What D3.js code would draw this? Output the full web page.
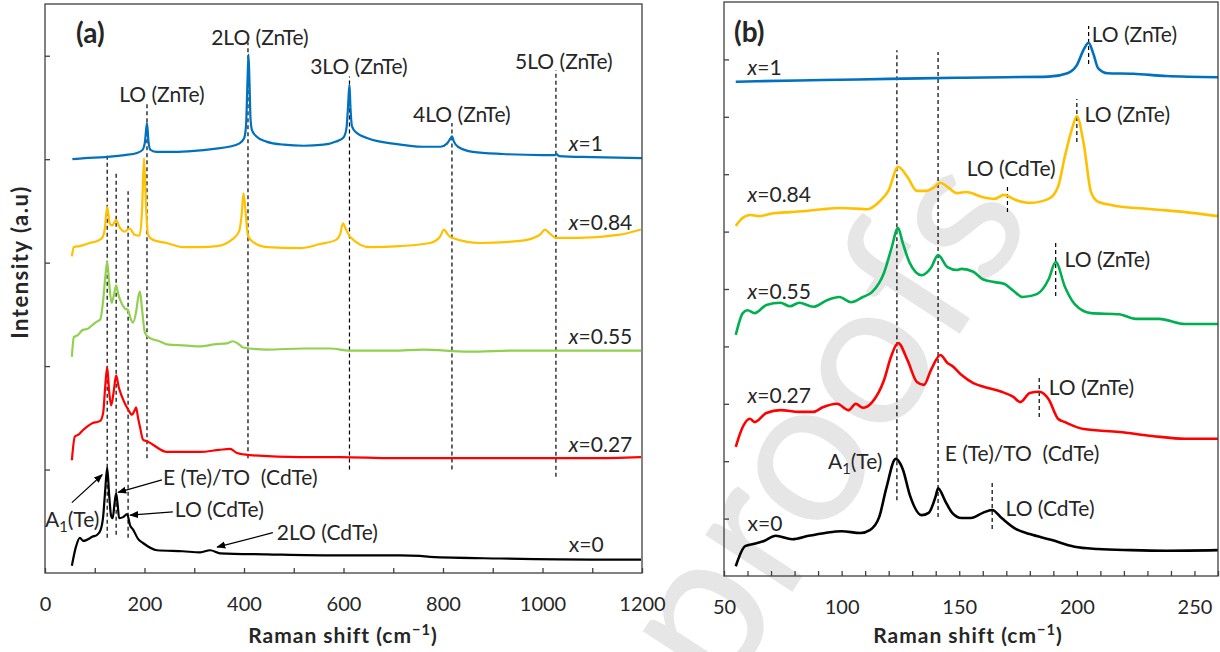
<!DOCTYPE html>
<html>
<head>
<meta charset="utf-8">
<script src="https://cdn.jsdelivr.net/npm/d3@7"></script>
<style>
body{margin:0;background:#fff;}
svg text{font-family:Lato,"Open Sans",sans-serif;fill:#262626;white-space:pre;}
</style>
</head>
<body>
<svg id="chart" width="1220" height="652"></svg>
<script>
// ---- panel (a): full range spectra, [Raman shift, stacked intensity] ----
var aX1 = [[55,4.00],[80,4.01],[120,4.02],[160,4.04],[185,4.06],[196,4.09],[201,4.17],[205,4.35],[208,4.17],[212,4.09],[225,4.07],[260,4.07],[300,4.08],[340,4.10],[370,4.12],[390,4.15],[400,4.2],[404,4.32],[407,4.75],[409,5.01],[411,4.75],[413,4.40],[416,4.28],[425,4.22],[445,4.17],[480,4.14],[520,4.13],[560,4.14],[585,4.17],[600,4.21],[606,4.3],[609,4.5],[612,4.72],[614,4.5],[617,4.32],[625,4.26],[650,4.20],[700,4.15],[760,4.12],[795,4.12],[808,4.15],[815,4.2],[818,4.22],[822,4.17],[830,4.12],[860,4.07],[920,4.05],[1000,4.04],[1025,4.04],[1028,4.05],[1033,4.03],[1100,4.02],[1200,4.01]];
var aX084 = [[54,3.06],[58,3.15],[70,3.16],[90,3.19],[105,3.21],[115,3.24],[120,3.32],[125,3.54],[130,3.38],[135,3.36],[143,3.41],[150,3.34],[160,3.30],[170,3.33],[180,3.27],[190,3.26],[195,3.5],[199,4.01],[203,3.55],[207,3.27],[217,3.22],[245,3.19],[277,3.15],[312,3.15],[346,3.16],[375,3.22],[390,3.3],[395,3.45],[399,3.67],[403,3.5],[408,3.26],[418,3.20],[446,3.15],[513,3.14],[553,3.18],[585,3.22],[593,3.27],[599,3.38],[605,3.32],[613,3.25],[653,3.15],[714,3.16],[774,3.19],[794,3.25],[802,3.32],[810,3.27],[818,3.24],[874,3.19],[955,3.21],[995,3.27],[1005,3.32],[1015,3.28],[1027,3.24],[1075,3.24],[1156,3.27],[1198,3.32]];
var aX055 = [[54,2.09],[58,2.28],[66,2.30],[76,2.35],[86,2.36],[96,2.40],[104,2.43],[111,2.45],[117,2.64],[121,2.85],[125,3.01],[129,2.80],[134,2.61],[139,2.70],[143,2.78],[147,2.70],[151,2.64],[160,2.56],[167,2.54],[172,2.46],[177,2.42],[183,2.52],[188,2.68],[191,2.72],[195,2.55],[201,2.32],[211,2.27],[230,2.24],[245,2.21],[280,2.20],[312,2.19],[340,2.21],[366,2.22],[378,2.24],[390,2.21],[398,2.18],[446,2.16],[520,2.17],[573,2.17],[613,2.15],[700,2.15],[760,2.16],[850,2.14],[950,2.15],[1050,2.15],[1150,2.15],[1198,2.15]];
var aX027 = [[54,1.09],[60,1.32],[68,1.34],[76,1.38],[86,1.42],[96,1.45],[105,1.46],[111,1.47],[117,1.55],[121,1.8],[125,1.99],[129,1.75],[133,1.62],[138,1.75],[143,1.91],[148,1.8],[155,1.70],[167,1.58],[175,1.53],[180,1.57],[183,1.60],[187,1.5],[191,1.41],[197,1.29],[207,1.27],[217,1.24],[245,1.17],[312,1.17],[350,1.19],[372,1.20],[386,1.16],[412,1.14],[513,1.12],[593,1.12],[700,1.11],[900,1.11],[1100,1.11],[1198,1.12]];
var aX0 = [[54,0.07],[62,0.25],[70,0.34],[77,0.31],[84,0.32],[95,0.35],[105,0.37],[112,0.42],[117,0.55],[121,0.8],[125,1.02],[129,0.75],[133,0.55],[136,0.53],[140,0.68],[143,0.77],[146,0.66],[149,0.53],[157,0.54],[165,0.57],[171,0.46],[177,0.42],[187,0.33],[197,0.29],[225,0.22],[277,0.21],[312,0.20],[332,0.22],[352,0.19],[446,0.18],[579,0.17],[714,0.17],[754,0.165],[774,0.155],[915,0.14],[1116,0.13],[1198,0.13]];

// ---- panel (b): low range zoom ----
var bX1 = [[55,8.61],[64,8.62],[92,8.64],[120,8.66],[149,8.68],[170,8.69],[188,8.70],[196,8.76],[200,8.90],[203,9.18],[205,9.29],[207,9.10],[209,8.85],[213,8.76],[224,8.75],[238,8.71],[260,8.69]];
var bX084 = [[55,6.10],[58,6.24],[61,6.29],[65,6.27],[71,6.32],[78,6.34],[85,6.36],[92,6.39],[99,6.41],[106,6.40],[111,6.39],[116,6.52],[120,6.72],[124,7.13],[128,6.95],[132,6.71],[136,6.71],[139,6.76],[142,6.85],[145,6.78],[149,6.67],[153,6.69],[160,6.60],[165,6.57],[169,6.64],[174,6.55],[180,6.50],[188,6.57],[192,6.78],[195,7.33],[198,7.8],[200,8.01],[203,7.51],[206,6.69],[209,6.52],[215,6.46],[232,6.39],[246,6.34],[260,6.27]];
var bX055 = [[55,4.20],[58,4.58],[60,4.63],[63,4.58],[68,4.72],[74,4.76],[78,4.70],[82,4.76],[88,4.69],[94,4.81],[99,4.86],[104,4.77],[109,4.86],[113,4.95],[118,5.28],[121,5.68],[124,6.06],[126,5.80],[129,5.45],[134,5.24],[138,5.37],[141,5.59],[145,5.38],[149,5.33],[151,5.35],[156,5.30],[160,5.17],[165,5.12],[169,5.09],[173,4.97],[177,4.86],[183,4.91],[188,5.17],[191,5.47],[195,5.03],[199,4.74],[206,4.58],[218,4.56],[225,4.48],[235,4.48],[246,4.39],[260,4.39]];
var bX027 = [[55,2.25],[58,2.60],[61,2.74],[63,2.68],[68,2.84],[74,2.89],[82,2.86],[88,2.86],[92,2.94],[98,3.00],[103,2.89],[106,3.00],[109,2.93],[113,3.03],[118,3.41],[121,3.82],[124,4.06],[128,3.76],[132,3.38],[135,3.33],[138,3.59],[142,3.85],[145,3.71],[147,3.66],[151,3.50],[156,3.36],[161,3.29],[168,3.21],[173,3.12],[176,3.03],[180,3.19],[184,3.21],[188,3.08],[192,2.74],[195,2.68],[203,2.56],[218,2.51],[232,2.44],[246,2.39],[260,2.39]];
var bX0 = [[55,0.17],[59,0.52],[63,0.56],[67,0.61],[72,0.70],[79,0.64],[86,0.70],[93,0.75],[100,0.78],[108,0.75],[112,0.80],[116,1.03],[119,1.53],[123,2.04],[126,1.86],[129,1.41],[134,1.06],[137,1.10],[140,1.39],[141,1.53],[144,1.31],[147,1.10],[151,1.01],[155,1.01],[160,1.10],[164,1.15],[168,1.01],[174,0.82],[180,0.73],[189,0.63],[199,0.51],[209,0.47],[223,0.45],[238,0.44],[260,0.45]];

var seriesNames = ["x=1", "x=0.84", "x=0.55", "x=0.27", "x=0"];

// ticks
var aTicks = [0,100,200,300,400,500,600,700,800,900,1000,1100,1200];
var aTickLabels = [0,200,400,600,800,1000,1200];
var aYTicks = [1,2,3,4,5];
var bTicks = d3.range(50, 261, 10);
var bTickLabels = [50,100,150,200,250];
var bYTicks = [1,2,3,4,5,6,7,8,9];

// peak markers: [shift, from, to]
var aMarkers = [[125,0.34,4.06],[143,0.37,3.87],[167,0.34,3.69],[205,1.11,4.54],[408,1.11,5.13],[612,1.0,4.80],[818,1.0,4.35],[1027,0.93,4.86]];
var bMarkers = [[123.5,1.32,9.16],[141,1.03,9.13],[205,8.92,9.58],[200,7.56,8.31],[170.5,6.34,6.83],[191,4.88,5.80],[184,2.77,3.50],[164,0.82,1.62]];

// text annotations
var aPeakNames = ["LO (ZnTe)","2LO (ZnTe)","3LO (ZnTe)","4LO (ZnTe)","5LO (ZnTe)"];
var aPeakAt = [[235,4.62],[432,5.17],[631,4.89],[838,4.43],[1043,4.94]];
var aSeriesAt = [[1053,4.15],[1053,3.39],[1053,2.28],[1053,1.24],[1053,0.27]];
var bSeriesAt = [[60,8.85],[60,6.64],[60,4.95],[60,3.15],[60,0.91]];
var bPeakNames = ["LO (ZnTe)","LO (ZnTe)","LO (CdTe)","LO (ZnTe)","LO (ZnTe)","A1(Te)","E (Te)/TO  (CdTe)","LO (CdTe)"];
var bPeakAt = [[206.3,9.43],[203.3,8.03],[153.2,7.09],[194.8,5.52],[188,3.29],[94.2,1.99],[143.8,2.13],[169.7,1.18]];
// arrows in (a): label, text start, arrow tail, arrow head
var aArrowNames = ["A1(Te)","E (Te)/TO  (CdTe)","LO (CdTe)","2LO (CdTe)"];
var aArrowText = [[0,0.52],[237,0.92],[261,0.61],[466,0.39]];
var aArrowFrom = [[54,0.68],[235,0.90],[257,0.59],[458,0.39]];
var aArrowTo = [[115,0.95],[147,0.78],[171,0.56],[346,0.25]];

var colorsA = ["#0070C0","#FFC000","#92D050","#FF0000","#000000"];
var colorsB = ["#0070C0","#FFC000","#00B050","#FF0000","#000000"];

var svg = d3.select("#chart");

svg.append("defs").append("marker")
    .attr("id","arr").attr("viewBox","0 0 10 10")
    .attr("refX",9).attr("refY",5)
    .attr("markerWidth",9).attr("markerHeight",9)
    .attr("markerUnits","userSpaceOnUse")
    .attr("orient","auto")
  .append("path").attr("d","M0,1L10,5L0,9Z").attr("fill","#000");

// watermark behind panel (b)
svg.append("text")
    .attr("transform","translate(722,700) rotate(-57)")
    .attr("font-size",205)
    .style("fill","#e6e6e6")
    .text("proofs");

var xa = d3.scaleLinear().domain([0,1200]).range([45,642]);
var ya = d3.scaleLinear().domain([0,5.5]).range([573,4]);
var xb = d3.scaleLinear().domain([50,260]).range([724,1218]);
var yb = d3.scaleLinear().domain([0,10]).range([576,2]);

function labelText(sel, txt){
    // italic x, subscript 1
    if (txt.indexOf("x=") === 0 && txt !== "x=0") {
        sel.append("tspan").style("font-style","italic").text("x");
        sel.append("tspan").text(txt.slice(1));
    } else if (txt.indexOf("A1") === 0) {
        sel.append("tspan").text("A");
        sel.append("tspan").attr("font-size","0.7em").attr("dy",5).text("1");
        sel.append("tspan").attr("dy",-5).text(txt.slice(2));
    } else {
        sel.text(txt);
    }
}

function drawPanel(x, y, curves, colors, width, ticks, tickLabels, yTicks, markers){
    var g = svg.append("g");
    var line = d3.line().x(function(d){return x(d[0]);}).y(function(d){return y(d[1]);}).curve(d3.curveMonotoneX);

    g.selectAll(".mk").data(markers).enter().append("line")
        .attr("x1",function(d){return x(d[0]);}).attr("x2",function(d){return x(d[0]);})
        .attr("y1",function(d){return y(d[1]);}).attr("y2",function(d){return y(d[2]);})
        .attr("stroke","#000").attr("stroke-width",1.2).attr("stroke-dasharray","4,3");

    g.selectAll(".sp").data(curves).enter().append("path")
        .attr("d",line).attr("fill","none")
        .attr("stroke",function(d,i){return colors[i];})
        .attr("stroke-width",width).attr("stroke-linejoin","round");

    var r = x.range(), b = y.range();
    g.append("rect").attr("x",r[0]).attr("y",b[1]).attr("width",r[1]-r[0]).attr("height",b[0]-b[1])
        .attr("fill","none").attr("stroke","#404040").attr("stroke-width",1.3);

    var xa_ = g.append("g").attr("transform","translate(0,"+b[0]+")")
        .call(d3.axisBottom(x).tickValues(ticks).tickSizeInner(-5).tickSizeOuter(0).tickPadding(24)
            .tickFormat(function(d){return tickLabels.indexOf(d)>=0 ? d : "";}));
    xa_.select(".domain").remove();
    xa_.selectAll("line").attr("stroke","#404040").attr("stroke-width",1.3);
    xa_.selectAll("text").attr("font-size",20).attr("font-family",null);

    var ya_ = g.append("g").attr("transform","translate("+r[0]+",0)")
        .call(d3.axisLeft(y).tickValues(yTicks).tickSizeInner(-5).tickSizeOuter(0).tickFormat(""));
    ya_.select(".domain").remove();
    ya_.selectAll("line").attr("stroke","#404040").attr("stroke-width",1.3);
    return g;
}

var ga = drawPanel(xa, ya, [aX1,aX084,aX055,aX027,aX0], colorsA, 2.2, aTicks, aTickLabels, aYTicks, aMarkers);
var gb = drawPanel(xb, yb, [bX1,bX084,bX055,bX027,bX0], colorsB, 2.6, bTicks, bTickLabels, bYTicks, bMarkers);

// panel (a) texts
ga.selectAll(".pk").data(aPeakNames).enter().append("text")
    .attr("x",function(d,i){return xa(aPeakAt[i][0]);}).attr("y",function(d,i){return ya(aPeakAt[i][1]);})
    .attr("dy","0.35em").attr("text-anchor","middle").attr("font-size",21).text(function(d){return d;});
seriesNames.forEach(function(s,i){
    ga.append("text").attr("x",xa(aSeriesAt[i][0])).attr("y",ya(aSeriesAt[i][1]))
        .attr("dy","0.35em").attr("font-size",21).call(labelText, s);
    gb.append("text").attr("x",xb(bSeriesAt[i][0])).attr("y",yb(bSeriesAt[i][1]))
        .attr("dy","0.35em").attr("font-size",21).call(labelText, s);
});
aArrowNames.forEach(function(s,i){
    ga.append("line")
        .attr("x1",xa(aArrowFrom[i][0])).attr("y1",ya(aArrowFrom[i][1]))
        .attr("x2",xa(aArrowTo[i][0])).attr("y2",ya(aArrowTo[i][1]))
        .attr("stroke","#000").attr("stroke-width",1.2).attr("marker-end","url(#arr)");
    ga.append("text").attr("x",xa(aArrowText[i][0])).attr("y",ya(aArrowText[i][1]))
        .attr("dy","0.35em").attr("font-size",21).call(labelText, s);
});
bPeakNames.forEach(function(s,i){
    gb.append("text").attr("x",xb(bPeakAt[i][0])).attr("y",yb(bPeakAt[i][1]))
        .attr("dy","0.35em").attr("font-size",21).call(labelText, s);
});

// panel letters and axis titles
svg.append("text").attr("x",76).attr("y",43).attr("font-size",28).attr("font-weight","bold").text("(a)");
svg.append("text").attr("x",734).attr("y",42).attr("font-size",28).attr("font-weight","bold").text("(b)");

function xTitle(cx){
    var t = svg.append("text").attr("x",cx).attr("y",643).attr("text-anchor","middle")
        .attr("font-size",21).attr("font-weight","bold").attr("letter-spacing",1);
    t.append("tspan").text("Raman shift (cm");
    t.append("tspan").attr("font-size","0.7em").attr("dy",-8).text("\u22121");
    t.append("tspan").attr("dy",8).text(")");
}
xTitle(343);
xTitle(968);
svg.append("text").attr("transform","translate(28,262) rotate(-90)").attr("text-anchor","middle")
    .attr("font-size",22).attr("font-weight","bold").attr("letter-spacing",1.5).text("Intensity (a.u)");
</script>
</body>
</html>
